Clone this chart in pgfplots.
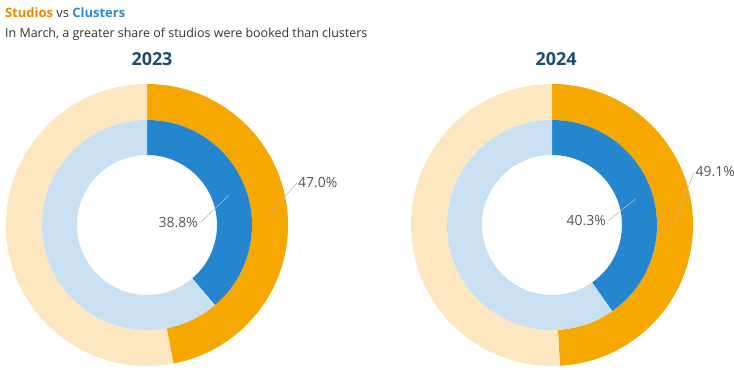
\documentclass[border=0pt]{standalone}
\usepackage{pgfplots}
\pgfplotsset{compat=1.18}
\usepackage{fontspec}
\setmainfont{Open Sans}
\definecolor{cOrange}{HTML}{F7A800}
\definecolor{cOrangeL}{HTML}{FDE7C0}
\definecolor{cBlue}{HTML}{2386CF}
\definecolor{cBlueL}{HTML}{C8E0F2}
\definecolor{cStud}{HTML}{E38A00}
\definecolor{cClus}{HTML}{2A8AD0}
\definecolor{cYear}{HTML}{1D4B72}
\definecolor{cText}{HTML}{333333}
\definecolor{cLab}{HTML}{555555}
\definecolor{cLine}{HTML}{B8B8B8}
% data (percent booked)
\def\StudA{47.0}\def\ClusA{38.8}
\def\StudB{49.1}\def\ClusB{40.3}
% ring: cx, cy, r_in, r_out, value, full colour, light colour
\newcommand\ring[7]{%
\begin{scope}[shift={(axis cs:#1,#2)}]
\fill[#6] (90:#4) arc[start angle=90,end angle={90-3.6*#5},radius=#4]
  -- ({90-3.6*#5}:#3) arc[start angle={90-3.6*#5},end angle=90,radius=#3] -- cycle;
\fill[#7] ({90-3.6*#5}:#4) arc[start angle={90-3.6*#5},end angle=-270,radius=#4]
  -- (-270:#3) arc[start angle=-270,end angle={90-3.6*#5},radius=#3] -- cycle;
\end{scope}}
\begin{document}
\begin{tikzpicture}
\begin{axis}[name=ax, scale only axis, width=734bp, height=370bp,
  xmin=0, xmax=734, ymin=0, ymax=370, hide axis, clip=false]
\addplot[draw=none] coordinates {(0,0) (734,370)};
% 2023
\ring{147}{145}{105bp}{141bp}{\StudA}{cOrange}{cOrangeL}
\ring{147}{145}{70bp}{105bp}{\ClusA}{cBlue}{cBlueL}
% 2024
\ring{552}{145}{105bp}{141bp}{\StudB}{cOrange}{cOrangeL}
\ring{552}{145}{70bp}{105bp}{\ClusB}{cBlue}{cBlueL}
% leader lines and labels
\draw[cLine, line width=0.6bp] (axis cs:147,145) ++({90-1.8*\StudA}:123bp) -- (axis cs:297,187);
\node[anchor=west, inner sep=1bp, text=cLab, font=\fontsize{14}{16}\selectfont] at (axis cs:297,187) {47.0\%};
\draw[cLine, line width=0.6bp] (axis cs:147,145) ++({90-1.8*\ClusA}:87.5bp) -- (axis cs:200,147);
\node[anchor=east, inner sep=2bp, text=cLab, font=\fontsize{14}{16}\selectfont] at (axis cs:200,147) {38.8\%};
\draw[cLine, line width=0.6bp] (axis cs:552,145) ++({90-1.8*\StudB}:123bp) -- (axis cs:694,198);
\node[anchor=west, inner sep=1.5bp, text=cLab, font=\fontsize{14}{16}\selectfont] at (axis cs:694,198) {49.1\%};
\draw[cLine, line width=0.6bp] (axis cs:552,145) ++({90-1.8*\ClusB}:87.5bp) -- (axis cs:608,149);
\node[anchor=east, inner sep=2bp, text=cLab, font=\fontsize{14}{16}\selectfont] at (axis cs:608,149) {40.3\%};
% titles
\node[anchor=base west, inner sep=0pt, font=\fontsize{13}{15}\selectfont] at (axis cs:5,353)
  {\textcolor{cStud}{\bfseries Studios} \textcolor{cText}{vs} \textcolor{cClus}{\bfseries Clusters}};
\node[anchor=base west, inner sep=0pt, text=cText, font=\fontsize{12.5}{15}\selectfont] at (axis cs:5,333)
  {In March, a greater share of studios were booked than clusters};
\node[anchor=base, inner sep=0pt, text=cYear, font=\bfseries\fontsize{18}{20}\selectfont] at (axis cs:152,305) {2023};
\node[anchor=base, inner sep=0pt, text=cYear, font=\bfseries\fontsize{18}{20}\selectfont] at (axis cs:556,305) {2024};
\end{axis}
\pgfresetboundingbox
\useasboundingbox (ax.south west) rectangle (ax.north east);
\end{tikzpicture}
\end{document}
